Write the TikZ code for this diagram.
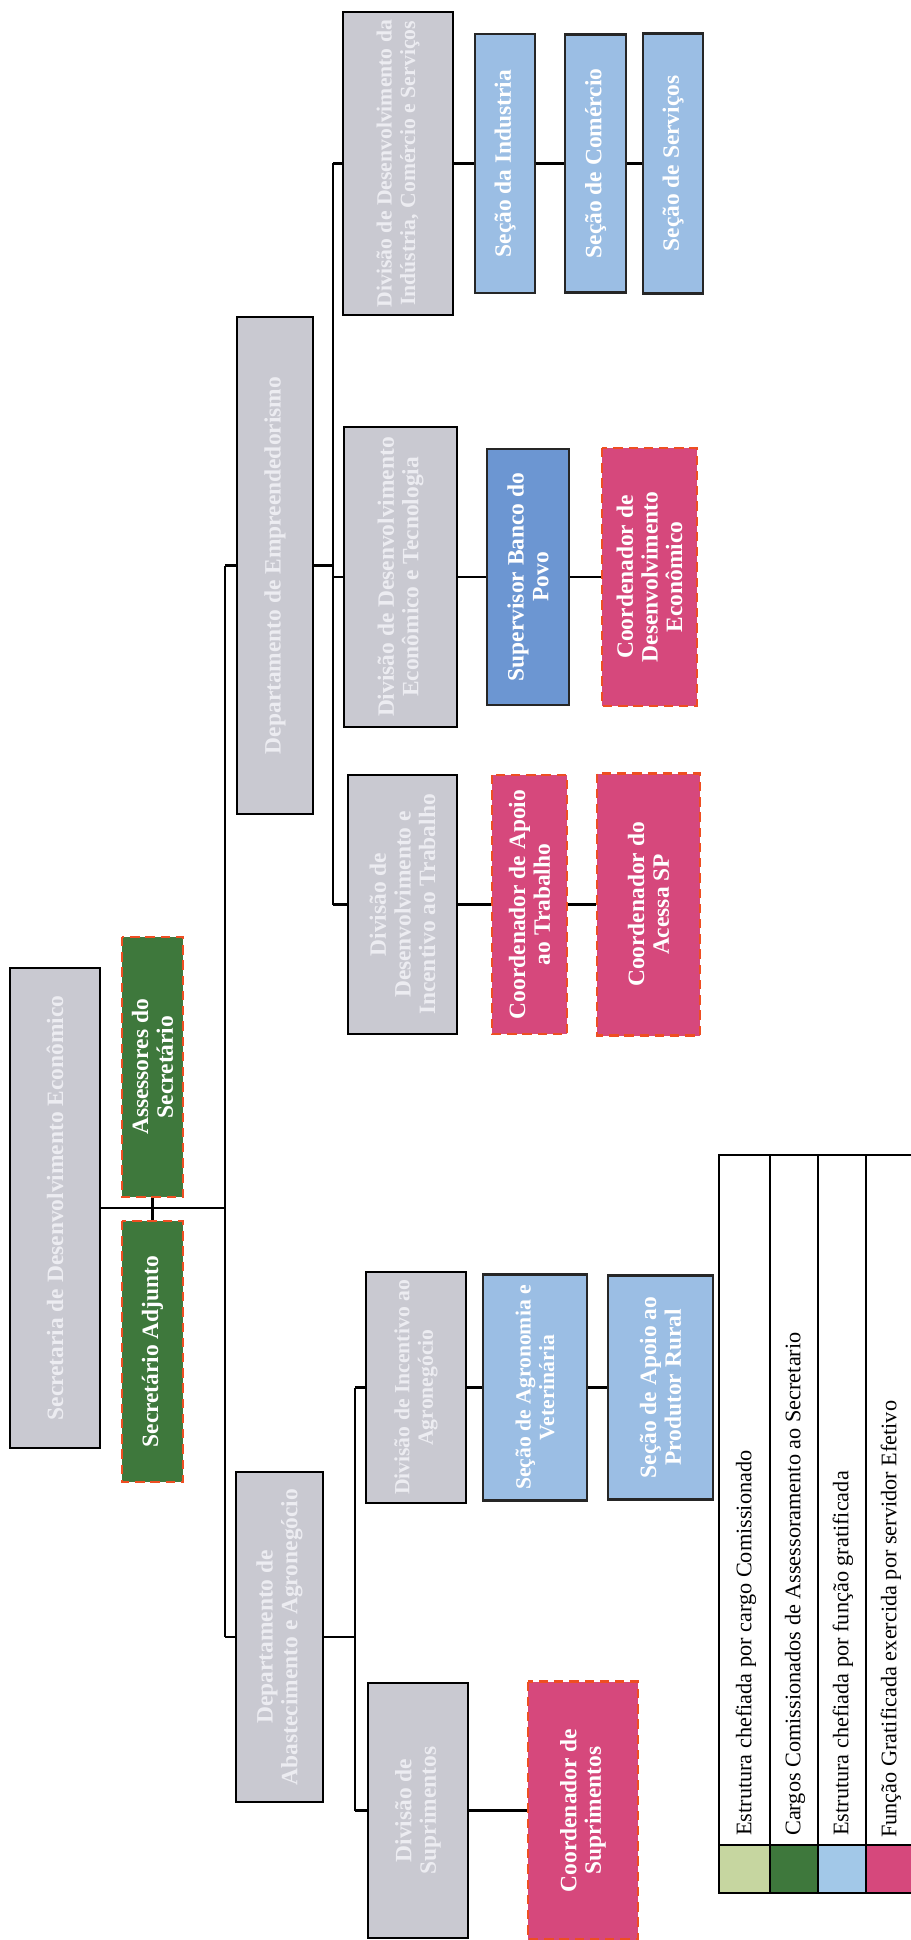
\documentclass[tikz,border=0pt]{standalone}
\usepackage{fontspec}
\setmainfont{Liberation Serif}
\definecolor{boxgrey}{RGB}{201,201,209}
\definecolor{greytext}{RGB}{236,236,241}
\definecolor{seclight}{RGB}{155,190,228}
\definecolor{supblue}{RGB}{108,150,210}
\definecolor{coordpink}{RGB}{214,72,124}
\definecolor{assgreen}{RGB}{62,120,60}
\definecolor{dashred}{RGB}{238,78,34}
\definecolor{keygreen}{RGB}{198,214,160}
\definecolor{keyblue}{RGB}{162,200,232}
\tikzset{
  boxsize/.style 2 args={minimum width=#1*0.3mm,minimum height=#2*0.3mm},
  box/.style={rotate=90,inner sep=0pt,align=center,text=white,
    font=\bfseries\fontsize{20}{21}\selectfont},
  small/.style={font=\bfseries\fontsize{18.5}{20}\selectfont},
  dept/.style={box,draw=black,line width=2.4pt,fill=boxgrey,text=greytext},
  secao/.style={box,draw=black!85,line width=2.4pt,fill=seclight},
  coord/.style={box,draw=dashred,dash pattern=on 8pt off 5pt,line width=2pt,fill=coordpink},
  assess/.style={coord,fill=assgreen},
  link/.style={line width=1.8pt},
  keytext/.style={rotate=90,inner sep=0pt,anchor=west,font=\fontsize{19}{20}\selectfont}
}
\begin{document}
\begin{tikzpicture}[x=0.3mm,y=-0.3mm]
\useasboundingbox (0,0) rectangle (911,1940);
% secretaria e assessoria
\node[dept,boxsize={480}{90}] (sec) at (55,1208) {Secretaria de Desenvolvimento Econômico};
\node[assess,boxsize={260}{61}] (ass) at (152.5,1067) {Assessores do\\Secretário};
\node[assess,boxsize={261}{61}] (adj) at (152.5,1351.5) {Secretário Adjunto};
% departamentos
\node[dept,boxsize={497}{76}] (emp) at (275,565.5) {Departamento de Empreendedorismo};
\node[dept,boxsize={330}{87}] (aba) at (279.5,1637) {Departamento de\\Abastecimento e Agronegócio};
% empreendedorismo
\node[dept,small,boxsize={303}{110}] (ind) at (398,163.5) {Divisão de Desenvolvimento da\\Indústria, Comércio e Serviços};
\node[secao,boxsize={259}{60}] (sind) at (505,163.5) {Seção da Industria};
\node[secao,boxsize={258}{61}] (scom) at (595.5,163.5) {Seção de Comércio};
\node[secao,boxsize={260}{60}] (sser) at (673,163.5) {Seção de Serviços};
\node[dept,boxsize={300}{113}] (eco) at (400.5,577) {Divisão de Desenvolvimento\\Econômico e Tecnologia};
\node[secao,fill=supblue,boxsize={256}{82}] (sbp) at (528,577) {Supervisor Banco do\\Povo};
\node[coord,boxsize={258}{95}] (cde) at (649.5,577) {Coordenador de\\Desenvolvimento\\Econômico};
\node[dept,boxsize={259}{109}] (trab) at (402.5,904.5) {Divisão de\\Desenvolvimento e\\Incentivo ao Trabalho};
\node[coord,boxsize={259}{75}] (cat) at (529.5,904.5) {Coordenador de Apoio\\ao Trabalho};
\node[coord,boxsize={262}{103}] (cas) at (648.5,904.5) {Coordenador do\\Acessa SP};
% abastecimento e agronegocio
\node[dept,small,boxsize={231}{100}] (agr) at (416,1387.5) {Divisão de Incentivo ao\\Agronegócio};
\node[secao,small,boxsize={226}{104}] (sag) at (535,1387.5) {Seção de Agronomia e\\Veterinária};
\node[secao,boxsize={224}{105}] (spr) at (660.5,1387.5) {Seção de Apoio ao\\Produtor Rural};
\node[dept,boxsize={255}{100}] (sup) at (418,1810.5) {Divisão de\\Suprimentos};
\node[coord,boxsize={258}{110}] (csu) at (583,1810.5) {Coordenador de\\Suprimentos};
% ligacoes
\coordinate (tk) at (225,0);
\coordinate (se) at (333,0);
\coordinate (sa) at (355,0);
\draw[link] (sec.south) -- (sec.south -| tk);
\draw[link] (ass.west) -- (adj.east);
\draw[link] (emp.north -| tk) -- (aba.north -| tk);
\draw[link] (emp.north) -- (emp.north -| tk);
\draw[link] (aba.north) -- (aba.north -| tk);
\draw[link] (emp.south) -- (emp.south -| se);
\draw[link] (ind.north -| se) -- (trab.north -| se);
\foreach \d in {ind,eco,trab}
  \draw[link] (\d.north) -- (\d.north -| se);
\draw[link] (ind.south) -- (sind.north);
\draw[link] (sind.south) -- (scom.north);
\draw[link] (scom.south) -- (sser.north);
\draw[link] (eco.south) -- (sbp.north);
\draw[link] (sbp.south) -- (cde.north);
\draw[link] (trab.south) -- (cat.north);
\draw[link] (cat.south) -- (cas.north);
\draw[link] (aba.south) -- (aba.south -| sa);
\draw[link] (agr.north -| sa) -- (sup.north -| sa);
\foreach \d in {agr,sup}
  \draw[link] (\d.north) -- (\d.north -| sa);
\draw[link] (agr.south) -- (sag.north);
\draw[link] (sag.south) -- (spr.north);
\draw[link] (sup.south) -- (csu.north);
% legenda
\fill[keygreen] (719,1845) rectangle (770,1893);
\fill[assgreen] (770,1845) rectangle (818,1893);
\fill[keyblue] (818,1845) rectangle (866,1893);
\fill[coordpink] (866,1845) rectangle (914,1893);
\draw[line width=1pt] (719,1155) rectangle (914,1893);
\foreach \x in {770,818,866}
  \draw[line width=1pt] (\x,1155) -- (\x,1893);
\draw[line width=1pt] (719,1845) -- (914,1845);
\node[keytext] (kcc) at (746,1836) {Estrutura chefiada por cargo Comissionado};
\node[keytext] (kca) at (795,1836) {Cargos Comissionados de Assessoramento ao Secretario};
\node[keytext] (kfg) at (843,1836) {Estrutura chefiada por função gratificada};
\node[keytext] (kfe) at (891,1838) {Função Gratificada exercida por servidor Efetivo};
\end{tikzpicture}
\end{document}
